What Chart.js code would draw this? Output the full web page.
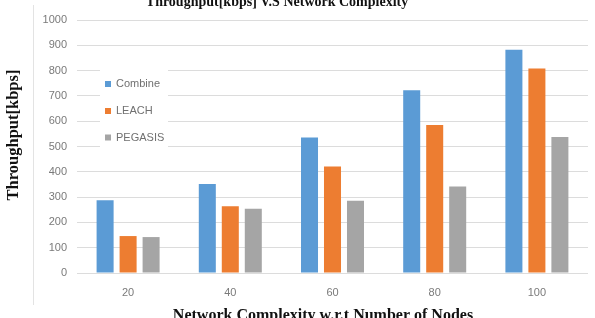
<!DOCTYPE html>
<html>
<head>
<meta charset="utf-8">
<script src="https://cdn.jsdelivr.net/npm/chart.js@4"></script>
<style>
html,body{margin:0;padding:0;background:#fff;}
#wrap{width:595px;height:318px;position:relative;}
</style>
</head>
<body>
<div id="wrap"><canvas id="c" width="595" height="318"></canvas></div>
<script>
const categories = ['20', '40', '60', '80', '100'];
const seriesNames = ['Combine', 'LEACH', 'PEGASIS'];
const combineValues = [288, 352, 536, 722, 882];
const leachValues = [146, 264, 421, 585, 808];
const pegasisValues = [142, 254, 286, 342, 538];
const yTicks = [0, 100, 200, 300, 400, 500, 600, 700, 800, 900, 1000];
const chartTitle = 'Throughput[kbps] V.S Network Complexity';
const xAxisTitle = 'Network Complexity w.r.t Number of Nodes';
const yAxisTitle = 'Throughput[kbps]';
const colors = ['#5B9BD5', '#ED7D31', '#A5A5A5'];

const textPlugin = {
  id: 'fixedTexts',
  beforeDraw(chart) {
    const ctx = chart.ctx;
    ctx.save();
    ctx.strokeStyle = '#e3e3e3';
    ctx.lineWidth = 1;
    ctx.beginPath();
    ctx.moveTo(33.5, 5);
    ctx.lineTo(33.5, 305);
    ctx.stroke();
    ctx.restore();
  },
  afterDraw(chart) {
    const ctx = chart.ctx;
    ctx.save();
    ctx.fillStyle = '#111';
    ctx.textAlign = 'center';
    ctx.textBaseline = 'alphabetic';
    ctx.font = 'bold 14px "Liberation Serif"';
    ctx.fillText(chartTitle, 277, 6);
    ctx.font = 'bold 16px "Liberation Serif"';
    ctx.fillText(xAxisTitle, 323, 320);
    ctx.save();
    ctx.translate(14, 135);
    ctx.rotate(-Math.PI / 2);
    ctx.textBaseline = 'middle';
    ctx.font = 'bold 16.5px "Liberation Serif"';
    ctx.fillText(yAxisTitle, 0, 0);
    ctx.restore();
    // legend
    ctx.fillStyle = '#fff';
    ctx.fillRect(100, 69, 68, 80);
    ctx.font = '11px "Liberation Sans"';
    ctx.textAlign = 'left';
    ctx.textBaseline = 'middle';
    const ys = [84, 111, 137.5];
    chart.data.datasets.forEach((ds, i) => {
      ctx.fillStyle = ds.backgroundColor;
      ctx.fillRect(105, ys[i] - 3, 6, 6);
      ctx.fillStyle = '#707070';
      ctx.fillText(ds.label, 116, ys[i]);
    });
    ctx.restore();
  }
};

new Chart(document.getElementById('c'), {
  type: 'bar',
  data: {
    labels: categories,
    datasets: [
      { label: seriesNames[0], data: combineValues, backgroundColor: colors[0] },
      { label: seriesNames[1], data: leachValues, backgroundColor: colors[1] },
      { label: seriesNames[2], data: pegasisValues, backgroundColor: colors[2] }
    ]
  },
  options: {
    responsive: false,
    animation: false,
    devicePixelRatio: 1,
    layout: { padding: { top: 20, right: 7, bottom: 0, left: 0 } },
    datasets: { bar: { categoryPercentage: 0.675, barPercentage: 0.74 } },
    plugins: {
      legend: { display: false },
      title: { display: false },
      tooltip: { enabled: false }
    },
    scales: {
      x: {
        grid: { display: false },
        border: { display: false },
        ticks: { color: '#7a7a7a', font: { family: 'Liberation Sans', size: 11 }, padding: 5 },
        afterFit(s) { s.height = 45; }
      },
      y: {
        min: 0, max: 1000,
        afterBuildTicks(s) { s.ticks = yTicks.map(v => ({ value: v })); },
        grid: { color: '#dcdcdc', drawTicks: false, lineWidth: 1 },
        border: { display: false },
        ticks: { color: '#7a7a7a', font: { family: 'Liberation Sans', size: 11 }, padding: 10, callback: v => String(v) },
        afterFit(s) { s.width = 77; }
      }
    }
  },
  plugins: [textPlugin]
});
</script>
</body>
</html>
